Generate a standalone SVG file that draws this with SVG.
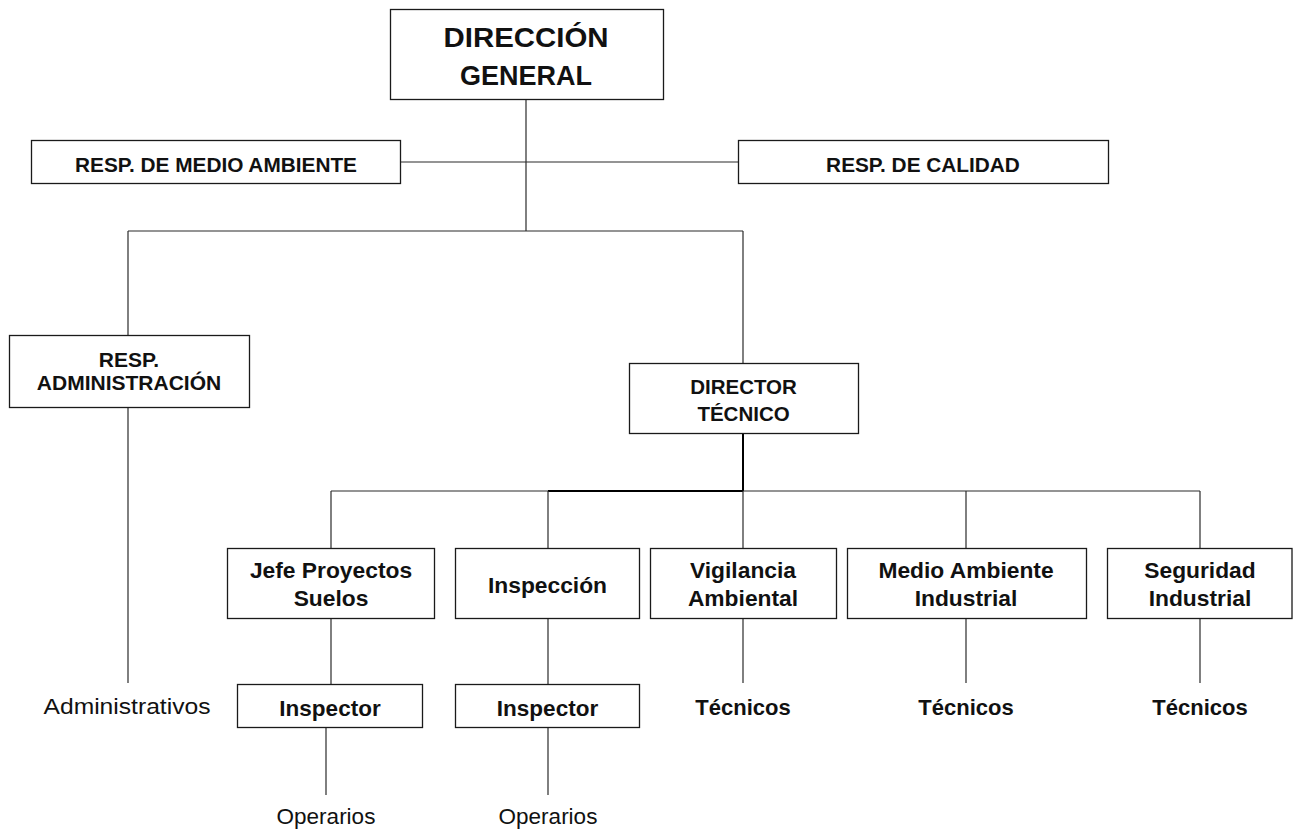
<svg xmlns="http://www.w3.org/2000/svg" width="1293" height="829" viewBox="0 0 1293 829">
<style>
  .box { fill: #ffffff; stroke: #1a1a1a; stroke-width: 1.3; }
  .t { font-family: "Liberation Sans", Arial, sans-serif; font-weight: bold; fill: #111; text-anchor: middle; }
  .r { font-family: "Liberation Sans", Arial, sans-serif; font-weight: normal; fill: #111; text-anchor: middle; }
  .c { stroke: #2a2a2a; stroke-width: 1.2; fill: none; }
  .ck { stroke: #000; stroke-width: 2; fill: none; }
</style>
<rect width="1293" height="829" fill="#ffffff"/>
<g id="connectors">
  <line class="c" x1="526" y1="99" x2="526" y2="231"/>
  <line class="c" x1="400" y1="162" x2="738" y2="162"/>
  <line class="c" x1="128" y1="231" x2="743" y2="231"/>
  <line class="c" x1="128" y1="231" x2="128" y2="335"/>
  <line class="c" x1="743" y1="231" x2="743" y2="363"/>
  <line class="c" x1="128" y1="407" x2="128" y2="683"/>
  <line class="ck" x1="743" y1="433" x2="743" y2="491"/>
  <line class="c" x1="331" y1="491" x2="548" y2="491"/>
  <line class="ck" x1="548" y1="491" x2="743" y2="491"/>
  <line class="c" x1="743" y1="491" x2="1200" y2="491"/>
  <line class="c" x1="331" y1="491" x2="331" y2="548"/>
  <line class="c" x1="548" y1="491" x2="548" y2="548"/>
  <line class="c" x1="743" y1="491" x2="743" y2="548"/>
  <line class="c" x1="966" y1="491" x2="966" y2="548"/>
  <line class="c" x1="1200" y1="491" x2="1200" y2="548"/>
  <line class="c" x1="331" y1="618" x2="331" y2="684"/>
  <line class="c" x1="548" y1="618" x2="548" y2="684"/>
  <line class="c" x1="743" y1="618" x2="743" y2="683"/>
  <line class="c" x1="966" y1="618" x2="966" y2="683"/>
  <line class="c" x1="1200" y1="618" x2="1200" y2="683"/>
  <line class="c" x1="326" y1="727" x2="326" y2="795"/>
  <line class="c" x1="548" y1="727" x2="548" y2="795"/>
</g>
<g id="direccion-general">
  <rect class="box" x="390.5" y="9.5" width="273" height="90"/>
  <text class="t" x="526" y="47" font-size="27" textLength="165" lengthAdjust="spacingAndGlyphs">DIRECCIÓN</text>
  <text class="t" x="526" y="85" font-size="27">GENERAL</text>
</g>
<g id="resp-medio-ambiente">
  <rect class="box" x="31.5" y="140.5" width="369" height="43"/>
  <text class="t" x="216" y="172" font-size="20.8">RESP. DE MEDIO AMBIENTE</text>
</g>
<g id="resp-calidad">
  <rect class="box" x="738.5" y="140.5" width="370" height="43"/>
  <text class="t" x="923" y="172" font-size="20.8">RESP. DE CALIDAD</text>
</g>
<g id="resp-administracion">
  <rect class="box" x="9.5" y="335.5" width="240" height="72"/>
  <text class="t" x="129" y="367" font-size="21">RESP.</text>
  <text class="t" x="129" y="390" font-size="21">ADMINISTRACIÓN</text>
</g>
<g id="director-tecnico">
  <rect class="box" x="629.5" y="363.5" width="229" height="70"/>
  <text class="t" x="743.5" y="394" font-size="20.5">DIRECTOR</text>
  <text class="t" x="743.5" y="421" font-size="20.5">TÉCNICO</text>
</g>
<g id="jefe-proyectos">
  <rect class="box" x="227.5" y="548.5" width="207" height="70"/>
  <text class="t" x="331" y="578" font-size="22.8">Jefe Proyectos</text>
  <text class="t" x="331" y="606" font-size="22.8">Suelos</text>
</g>
<g id="inspeccion">
  <rect class="box" x="455.5" y="548.5" width="184" height="70"/>
  <text class="t" x="547.5" y="593" font-size="22.8">Inspección</text>
</g>
<g id="vigilancia-ambiental">
  <rect class="box" x="650.5" y="548.5" width="186" height="70"/>
  <text class="t" x="743" y="578" font-size="22.8">Vigilancia</text>
  <text class="t" x="743" y="606" font-size="22.8">Ambiental</text>
</g>
<g id="medio-ambiente-industrial">
  <rect class="box" x="847.5" y="548.5" width="239" height="70"/>
  <text class="t" x="966" y="578" font-size="22.8">Medio Ambiente</text>
  <text class="t" x="966" y="606" font-size="22.8">Industrial</text>
</g>
<g id="seguridad-industrial">
  <rect class="box" x="1107.5" y="548.5" width="184.5" height="70"/>
  <text class="t" x="1200" y="578" font-size="22.8">Seguridad</text>
  <text class="t" x="1200" y="606" font-size="22.8">Industrial</text>
</g>
<g id="administrativos">
  <text class="r" x="127" y="714" font-size="22" textLength="167" lengthAdjust="spacingAndGlyphs">Administrativos</text>
</g>
<g id="inspector-1">
  <rect class="box" x="237.5" y="684.5" width="185" height="43"/>
  <text class="t" x="330" y="716" font-size="22.5">Inspector</text>
</g>
<g id="inspector-2">
  <rect class="box" x="455.5" y="684.5" width="184" height="43"/>
  <text class="t" x="547.5" y="716" font-size="22.5">Inspector</text>
</g>
<g id="tecnicos-1">
  <text class="t" x="743" y="715" font-size="22">Técnicos</text>
</g>
<g id="tecnicos-2">
  <text class="t" x="966" y="715" font-size="22">Técnicos</text>
</g>
<g id="tecnicos-3">
  <text class="t" x="1200" y="715" font-size="22">Técnicos</text>
</g>
<g id="operarios-1">
  <text class="r" x="326" y="824" font-size="22.5">Operarios</text>
</g>
<g id="operarios-2">
  <text class="r" x="548" y="824" font-size="22.5">Operarios</text>
</g>
</svg>
